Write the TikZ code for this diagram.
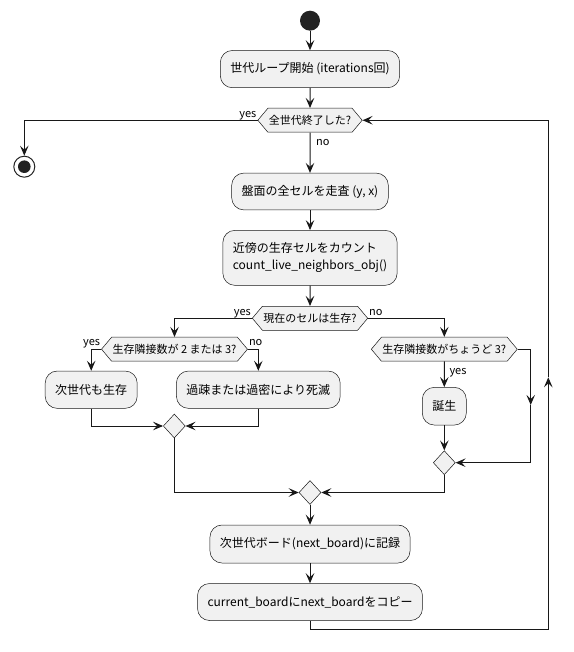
\documentclass[tikz,border=0pt]{standalone}
\usepackage{fontspec}
\setmainfont{Noto Sans CJK JP}
\usetikzlibrary{arrows.meta,positioning,shapes.geometric,shapes.symbols}
\definecolor{umlfill}{HTML}{F1F1F1}
\definecolor{umlline}{HTML}{181818}
\definecolor{umldot}{HTML}{222222}

\begin{document}
\begin{tikzpicture}[x=1pt, y=-1pt, node distance=20pt,
    every node/.style={font=\fontsize{12}{17}\selectfont},
    action/.style={draw=umlline, line width=0.5pt, fill=umlfill, rounded corners=12pt, inner xsep=10pt, inner ysep=0pt, align=left},
    decision/.style={shape=signal, signal to=west and east, signal pointer angle=100, draw=umlline, line width=0.5pt, fill=umlfill, inner xsep=1pt, inner ysep=0pt, minimum height=24pt, font=\fontsize{11}{13}\selectfont},
    merge/.style={diamond, draw=umlline, line width=0.5pt, fill=umlfill, inner sep=0pt, minimum width=22pt, minimum height=24pt},
    guard/.style={font=\fontsize{11}{13}\selectfont, inner sep=1pt},
    flow/.style={draw=umlline, line width=1pt, -{Stealth[length=10pt, width=8.5pt, inset=4pt]}}]
    \useasboundingbox (0,0) rectangle (573,652);

    % main column
    \node[circle, fill=umldot, minimum size=20pt, inner sep=0pt] (start) at (310,20.7) {};
    \node[action, minimum height=37.3pt, below=19.3pt of start] (iter) {世代ループ開始 (iterations回)};
    \node[decision, below=20pt of iter] (done) {全世代終了した?};
    \node[circle, draw=umldot, line width=1pt, fill=white, minimum size=21pt, inner sep=0pt,
      path picture={\fill[umldot] (path picture bounding box.center) circle (6.3pt);}] (stop) at (24.3,166.7) {};
    \node[action, minimum height=36.7pt, below=40.4pt of done] (scan) {盤面の全セルを走査 (y, x)};
    \node[action, minimum height=55pt, below=20pt of scan] (count) {近傍の生存セルをカウント\\count\_live\_neighbors\_obj()};
    \node[decision, below=20.4pt of count] (alive) {現在のセルは生存?};

    % branches
    \node[decision] (keep) at (174.5,349.2) {生存隣接数が 2 または 3?};
    \node[action, minimum height=37.3pt] (survive) at (91.2,389.7) {次世代も生存};
    \node[action, minimum height=37.3pt] (die) at (258.3,389.7) {過疎または過密により死滅};
    \node[merge] (joinl) at (174.3,426) {};
    \node[decision] (three) at (444.3,349.2) {生存隣接数がちょうど 3?};
    \node[action, minimum height=37.7pt] (birth) at (444.3,406.2) {誕生};
    \node[merge] (joinr) at (444.3,462.7) {};

    \node[merge] (join) at (310,492.5) {};
    \node[action, minimum height=38pt, below=20pt of join] (record) {次世代ボード(next\_board)に記録};
    \node[action, minimum height=37pt, below=20pt of record] (copy) {current\_boardにnext\_boardをコピー};

    \coordinate (skip) at (530.7,405);
    \coordinate (loopfoot) at (548.3,629);
    \coordinate (loopup) at (548.3,377.3);

    % guards
    \node[guard, anchor=base east] (doneyes) at ([yshift=3pt]done.west) {yes};
    \node[guard, anchor=base west] (doneno) at ([xshift=5pt,yshift=-12.7pt]done.south) {no};
    \node[guard, anchor=base east] (aliveyes) at ([yshift=3pt]alive.west) {yes};
    \node[guard, anchor=base west] (aliveno) at ([yshift=3pt]alive.east) {no};
    \node[guard, anchor=base east] (keepyes) at ([yshift=4pt]keep.west) {yes};
    \node[guard, anchor=base west] (keepno) at ([yshift=4pt]keep.east) {no};
    \node[guard, anchor=base west] (threeyes) at ([xshift=4pt,yshift=-13pt]three.south) {yes};

    % connectors
    \draw[flow] (start) -- (iter);
    \draw[flow] (iter) -- (done);
    \draw[flow] (done.west) -| (stop.north);
    \draw[flow] (done) -- (scan);
    \draw[flow] (scan) -- (count);
    \draw[flow] (count) -- (alive);
    \draw[flow] (alive.west) -| (keep.north);
    \draw[flow] (alive.east) -| (three.north);
    \draw[flow] (keep.west) -| (survive.north);
    \draw[flow] (keep.east) -| (die.north);
    \draw[flow] (survive.south) |- (joinl.west);
    \draw[flow] (die.south) |- (joinl.east);
    \draw[flow] (three) -- (birth);
    \draw[flow] (birth) -- (joinr);
    \draw[flow] (three.east) -| (skip);
    \draw[flow] (skip) |- (joinr.east);
    \draw[flow] (joinl.south) |- (join.west);
    \draw[flow] (joinr.south) |- (join.east);
    \draw[flow] (join) -- (record);
    \draw[flow] (record) -- (copy);
    \draw[flow] (copy.south) |- (loopfoot) -- (loopup);
    \draw[flow] (loopup) |- (done.east);
  \end{tikzpicture}
\end{document}
